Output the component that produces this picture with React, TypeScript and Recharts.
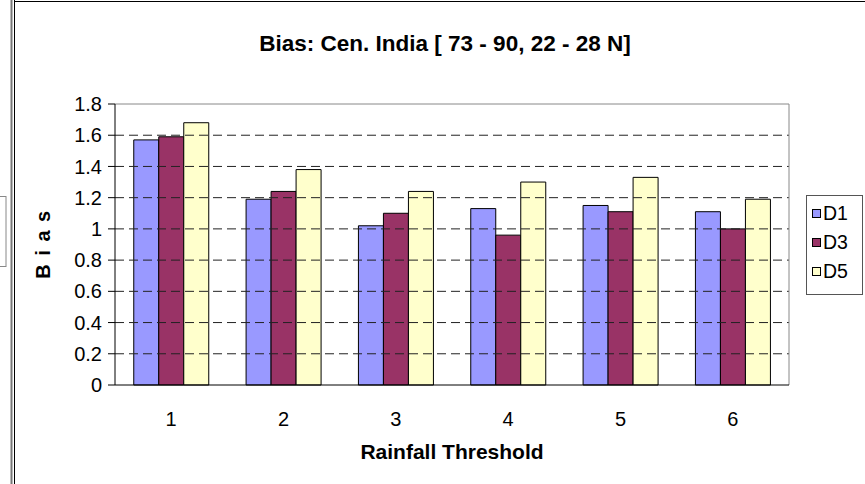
import React from 'react';
import { BarChart, Bar, XAxis, YAxis, ReferenceLine } from 'recharts';

const categories = ['1', '2', '3', '4', '5', '6'];
const d1Values = [1.57, 1.19, 1.02, 1.13, 1.15, 1.11];
const d3Values = [1.59, 1.24, 1.1, 0.96, 1.11, 1.0];
const d5Values = [1.68, 1.38, 1.24, 1.3, 1.33, 1.19];
const seriesNames = ['D1', 'D3', 'D5'];
const seriesColors = ['#9999FF', '#993366', '#FFFFCC'];
const yTicks = [0, 0.2, 0.4, 0.6, 0.8, 1, 1.2, 1.4, 1.6, 1.8];
const gridValues = [0.2, 0.4, 0.6, 0.8, 1, 1.2, 1.4, 1.6];
const edgeTicks = [0, 1, 2, 3, 4, 5, 6];
const titleText = 'Bias: Cen. India [ 73 - 90, 22 - 28 N]';
const xTitle = 'Rainfall Threshold';
const yTitle = 'B i a s';

const seriesValues = [d1Values, d3Values, d5Values];
const data = categories.map((c, i) => {
  const row: any = { cat: c, idx: i + 0.5 };
  seriesNames.forEach((n, s) => (row[n] = seriesValues[s][i]));
  return row;
});

const FONT = '"Liberation Sans", Arial, sans-serif';

export default function App() {
  return (
    <div style={{ position: 'absolute', left: 0, top: 0, width: 865, height: 484, background: '#fff', fontFamily: FONT }}>
      <BarChart
        width={865}
        height={484}
        data={data}
        margin={{ top: 104, right: 76, bottom: 68, left: 55 }}
        barCategoryGap="16.7%"
        barGap={0}
      >
        <XAxis
          xAxisId="edges"
          type="number"
          dataKey="idx"
          domain={[0, 6]}
          ticks={edgeTicks}
          allowDataOverflow
          height={0}
          axisLine={false}
          tick={false}
          tickSize={7}
          tickLine={{ stroke: '#000' }}
        />
        <XAxis
          dataKey="cat"
          height={31}
          tickLine={false}
          axisLine={{ stroke: '#000' }}
          tickMargin={21}
          tick={{ fill: '#000', fontSize: 20, fontFamily: FONT }}
        />
        <YAxis
          width={60}
          domain={[0, 1.8]}
          ticks={yTicks}
          interval={0}
          tickSize={7}
          tickMargin={6}
          axisLine={{ stroke: '#000' }}
          tickLine={{ stroke: '#000' }}
          tick={{ fill: '#000', fontSize: 20, fontFamily: FONT }}
          tickFormatter={(v: number) => String(Number(v.toFixed(1)))}
        />
        {gridValues.map((v) => (
          <ReferenceLine key={v} y={v} stroke="#222" strokeDasharray="9 5" />
        ))}
        <ReferenceLine y={1.8} stroke="#888" />
        <ReferenceLine xAxisId="edges" x={6} stroke="#888" />
        {seriesNames.map((n, s) => (
          <Bar key={n} dataKey={n} fill={seriesColors[s]} stroke="#000" strokeWidth={1} isAnimationActive={false} />
        ))}
      </BarChart>
      <svg width={865} height={484} style={{ position: 'absolute', left: 0, top: 0, pointerEvents: 'none' }}>
        <line x1={11.5} y1={0} x2={11.5} y2={484} stroke="#777" strokeWidth={2} />
        <line x1={14.5} y1={0} x2={14.5} y2={484} stroke="#000" strokeWidth={1} />
        <line x1={14} y1={1.5} x2={865} y2={1.5} stroke="#000" strokeWidth={1} />
        <rect x={-2} y={196.5} width={8} height={70} fill="none" stroke="#888" />
        <text x={445} y={51} textAnchor="middle" fontSize={22.5} fontWeight="bold" fontFamily={FONT} fill="#000">
          {titleText}
        </text>
        <text x={452} y={459} textAnchor="middle" fontSize={21} fontWeight="bold" fontFamily={FONT} fill="#000">
          {xTitle}
        </text>
        <text
          x={0}
          y={0}
          transform="translate(50,244) rotate(-90)"
          textAnchor="middle"
          fontSize={20}
          fontWeight="bold"
          letterSpacing={1.5}
          fontFamily={FONT}
          fill="#000"
        >
          {yTitle}
        </text>
        <rect x={806.5} y={195.5} width={56} height={99} fill="#fff" stroke="#555" />
        {seriesNames.map((n, s) => (
          <g key={n}>
            <rect x={812.5} y={209.5 + s * 29} width={8} height={8} fill={seriesColors[s]} stroke="#000" />
            <text x={823} y={220 + s * 29} fontSize={19.5} fontFamily={FONT} fill="#000">
              {n}
            </text>
          </g>
        ))}
      </svg>
    </div>
  );
}
